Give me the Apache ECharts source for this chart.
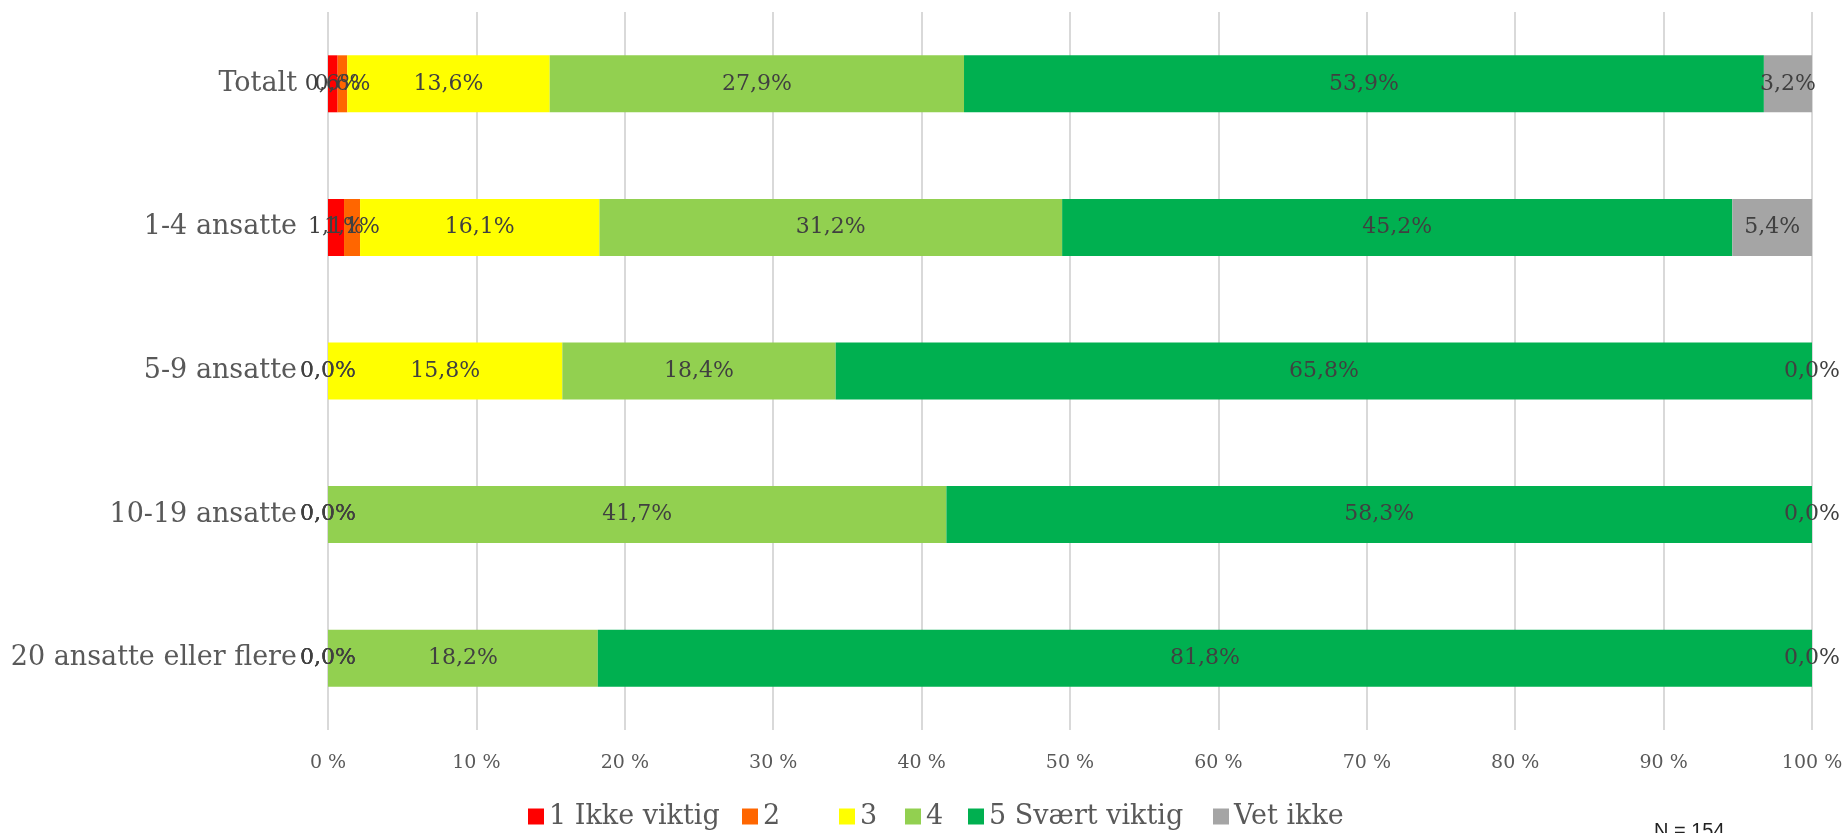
<!DOCTYPE html>
<html>
<head>
<meta charset="utf-8">
<script src="https://cdn.jsdelivr.net/npm/echarts@6/dist/echarts.min.js"></script>
<style>
html,body{margin:0;padding:0;background:#fff;}
#chart{width:1847px;height:833px;}
</style>
</head>
<body>
<div id="chart"></div>
<script>
const categories = ['Totalt', '1-4 ansatte', '5-9 ansatte', '10-19 ansatte', '20 ansatte eller flere'];
const seriesNames = ['1 Ikke viktig', '2', '3', '4', '5 Svært viktig', 'Vet ikke'];
const seriesColors = ['#FF0000', '#FF6600', '#FFFF00', '#92D050', '#00B050', '#A5A5A5'];
const s1 = [0.649, 1.08, 0.0, 0.0, 0.0];
const s2 = [0.649, 1.08, 0.0, 0.0, 0.0];
const s3 = [13.64, 16.13, 15.79, 0.0, 0.0];
const s4 = [27.92, 31.18, 18.42, 41.67, 18.18];
const s5 = [53.90, 45.16, 65.79, 58.33, 81.82];
const s6 = [3.247, 5.38, 0.0, 0.0, 0.0];
const xTicks = [0, 10, 20, 30, 40, 50, 60, 70, 80, 90, 100];
const noteText = 'N = 154';

const allData = [s1, s2, s3, s4, s5, s6];
const serif = 'DejaVu Serif';
const legendLefts = [528, 742, 839, 905, 968, 1213];

const chart = echarts.init(document.getElementById('chart'));
const fmt = v => v.toFixed(1).replace('.', ',') + '%';

const series = allData.map((d, i) => ({
  name: seriesNames[i],
  type: 'bar',
  stack: 'total',
  data: d,
  barWidth: 57,
  itemStyle: { color: seriesColors[i] },
  label: {
    show: true,
    position: 'inside',
    formatter: p => fmt(p.value),
    fontFamily: serif,
    fontSize: 22,
    color: '#404040'
  },
  emphasis: { disabled: true },
  animation: false
}));

const legends = seriesNames.map((n, i) => ({
  data: [n],
  left: legendLefts[i],
  top: 803,
  padding: 0,
  itemWidth: 16,
  itemHeight: 16,
  itemGap: 0,
  icon: 'rect',
  textStyle: { fontFamily: serif, fontSize: 27, color: '#595959' }
}));

chart.setOption({
  animation: false,
  backgroundColor: '#fff',
  legend: legends,
  grid: { left: 328, right: 35, top: 12, bottom: 103, containLabel: false },
  xAxis: {
    type: 'value',
    min: xTicks[0],
    max: xTicks[xTicks.length - 1],
    interval: xTicks[1] - xTicks[0],
    axisLine: { show: false },
    axisTick: { show: false },
    splitLine: { show: true, lineStyle: { color: '#d9d9d9', width: 2 } },
    axisLabel: {
      formatter: v => v + ' %',
      fontFamily: serif,
      fontSize: 19,
      color: '#595959',
      margin: 24
    }
  },
  yAxis: {
    type: 'category',
    inverse: true,
    data: categories,
    axisLine: { show: false },
    axisTick: { show: false },
    axisLabel: {
      fontFamily: serif,
      fontSize: 27,
      color: '#595959',
      margin: 31
    }
  },
  graphic: [{
    type: 'text',
    left: 1654,
    top: 821,
    style: { text: noteText, font: '20px "Liberation Sans", Arial, sans-serif', fill: '#222' }
  }],
  series: series
});
</script>
</body>
</html>
